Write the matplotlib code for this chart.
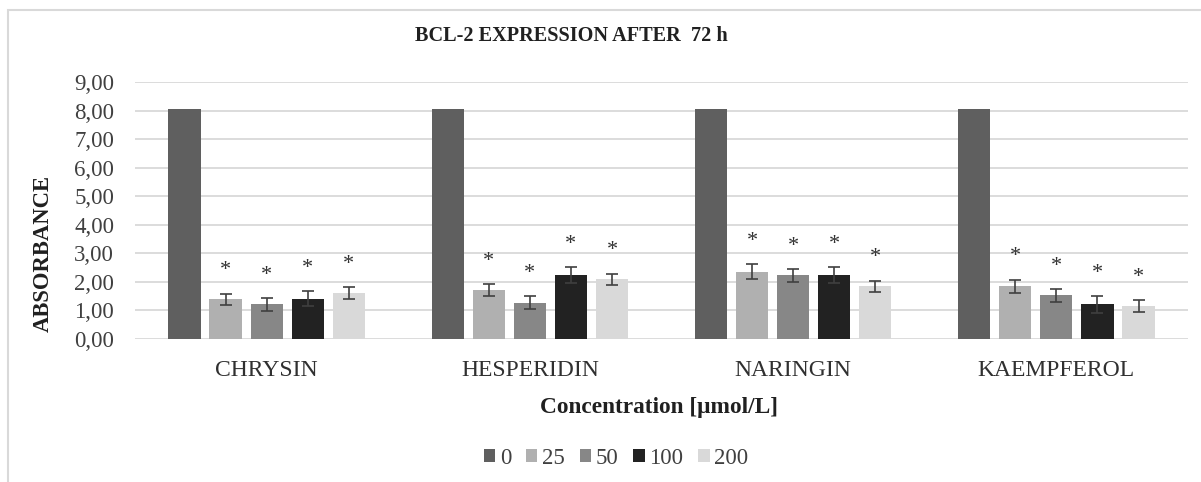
import matplotlib
matplotlib.use("Agg")
import matplotlib.pyplot as plt
from matplotlib.patches import Rectangle, Patch
import numpy as np

categories = ["CHRYSIN", "HESPERIDIN", "NARINGIN", "KAEMPFEROL"]
series_names = ["0", "25", "50", "100", "200"]
values = {
    "0":   [8.07, 8.07, 8.07, 8.07],
    "25":  [1.39, 1.71, 2.36, 1.85],
    "50":  [1.21, 1.27, 2.23, 1.53],
    "100": [1.41, 2.23, 2.23, 1.21],
    "200": [1.61, 2.09, 1.84, 1.16],
}
errors = {
    "0":   [None, None, None, None],
    "25":  [0.20, 0.20, 0.25, 0.23],
    "50":  [0.23, 0.22, 0.22, 0.22],
    "100": [0.26, 0.28, 0.28, 0.29],
    "200": [0.20, 0.20, 0.20, 0.20],
}
colors = {"0": "#5f5f5f", "25": "#b0b0b0", "50": "#878787", "100": "#222222", "200": "#d9d9d9"}
yticks = [0, 1, 2, 3, 4, 5, 6, 7, 8, 9]
ytick_labels = ["0,00", "1,00", "2,00", "3,00", "4,00", "5,00", "6,00", "7,00", "8,00", "9,00"]

plt.rcParams['font.family'] = ['Liberation Serif', 'DejaVu Serif']

W, H = 1201, 482
fig = plt.figure(figsize=(W / 100, H / 100), dpi=100)
ax = fig.add_axes([135 / W, (H - 339) / H, (1188 - 135) / W, (339 - 82) / H])

x = np.arange(len(categories))
pitch = 0.156
width = 0.122
for i, s in enumerate(series_names):
    pos = x + (i - 2) * pitch
    ax.bar(pos, values[s], width=width, color=colors[s], zorder=3, label=s)
    if errors[s][0] is not None:
        ax.errorbar(pos, values[s], yerr=errors[s], fmt='none', ecolor='#404040',
                    elinewidth=1.2, capsize=4.5, capthick=1.2, zorder=4)
        for p, v, e in zip(pos, values[s], errors[s]):
            ax.text(p, v + e + 0.8, "*", ha='center', va='center', fontsize=16,
                    color='#303030', zorder=5)

ax.set_xlim(-0.5, len(categories) - 0.5)
ax.set_ylim(0, 9)
ax.set_yticks(yticks)
ax.set_yticklabels(ytick_labels, fontsize=16.5, color='#404040')
ax.set_xticks(x)
ax.set_xticklabels(categories, fontsize=17, color='#303030')
ax.tick_params(axis='both', length=0)
ax.tick_params(axis='y', pad=15)
ax.tick_params(axis='x', pad=15)
ax.grid(axis='y', color='#d9d9d9', linewidth=1.3, zorder=0)
for sp in ax.spines.values():
    sp.set_visible(False)

fig.text(571 / W, 1 - 36 / H, "BCL-2 EXPRESSION AFTER  72 h", ha='center', va='center',
         fontsize=14.6, fontweight='bold', color='#202020')
fig.text(659 / W, 1 - 407 / H, "Concentration [μmol/L]", ha='center', va='center',
         fontsize=16.8, fontweight='bold', color='#202020')
fig.text(43 / W, 1 - 253 / H, "ABSORBANCE", ha='center', va='center', rotation=90,
         fontsize=16.3, fontweight='bold', color='#202020')

handles = [Patch(facecolor=colors[s], label=s) for s in series_names]
fig.legend(handles=handles, loc='center', bbox_to_anchor=(616 / W, 1 - 458 / H), ncol=5,
           frameon=False, fontsize=16.5, handlelength=0.5, handleheight=0.5,
           handletextpad=0.2, columnspacing=0.65, labelcolor='#404040')

fig.patches.append(Rectangle((8 / W, -0.1), 1.2, 1 - 10 / H + 0.1, transform=fig.transFigure,
                             fill=False, edgecolor='#d9d9d9', linewidth=1.5))

fig.savefig("out.png", dpi=100)
